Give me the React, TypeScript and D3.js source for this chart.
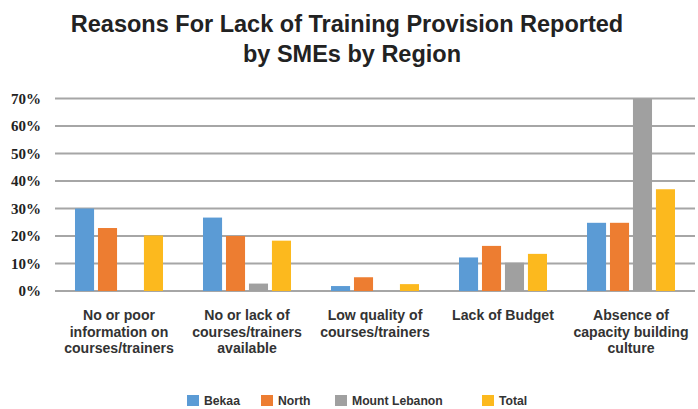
import React from "react";
import * as d3 from "d3";

const categories: string[][] = [
  ["No or poor", "information on", "courses/trainers"],
  ["No or lack of", "courses/trainers", "available"],
  ["Low quality of", "courses/trainers"],
  ["Lack of Budget"],
  ["Absence of", "capacity building", "culture"],
];
const seriesNames = ["Bekaa", "North", "Mount Lebanon", "Total"];
const bekaa = [30, 26.7, 1.8, 12.2, 24.8];
const north = [22.9, 20, 5, 16.4, 24.8];
const mountLebanon = [0, 2.7, 0, 10.3, 70];
const total = [20.2, 18.3, 2.5, 13.5, 37];
const yTicks = [0, 10, 20, 30, 40, 50, 60, 70];

const seriesValues = [bekaa, north, mountLebanon, total];
const colors = ["#5B9BD5", "#ED7D31", "#A0A0A0", "#FCB91E"];

const W = 698;
const H = 409;
const plot = { left: 55, right: 695, top: 98.5, bottom: 291 };
const legendX = [187, 261, 335, 482];

export default function App() {
  const x0 = d3
    .scaleBand<number>()
    .domain(categories.map((_, i) => i))
    .range([plot.left, plot.right])
    .padding(0);
  const x1 = d3
    .scaleBand<number>()
    .domain(seriesNames.map((_, i) => i))
    .range([0, x0.bandwidth()])
    .paddingInner(0.17)
    .paddingOuter(0.87);
  const y = d3.scaleLinear().domain([0, 70]).range([plot.bottom, plot.top]);

  return (
    <svg
      width={W}
      height={H}
      style={{ position: "absolute", left: 0, top: 0, background: "#fff" }}
    >
      <rect x={0} y={0} width={W} height={H} fill="#fff" />
      <g
        fontFamily="'Liberation Sans', Arial, sans-serif"
        fontWeight="bold"
        fontSize={23.5}
        fill="#222"
        textAnchor="middle"
      >
        <text x={347} y={32}>Reasons For Lack of Training Provision Reported</text>
        <text x={352} y={62}>by SMEs by Region</text>
      </g>

      {yTicks.map((t) => (
        <g key={t}>
          <line
            x1={plot.left}
            x2={plot.right}
            y1={y(t)}
            y2={y(t)}
            stroke="#A6A6A6"
            strokeWidth={2}
          />
          <text
            x={41}
            y={y(t)}
            dy="0.34em"
            textAnchor="end"
            fontFamily="'Liberation Serif', 'DejaVu Serif', 'Times New Roman', serif"
            fontWeight="bold"
            fontSize={15}
            fill="#222"
          >
            {t}%
          </text>
        </g>
      ))}

      {categories.map((_, ci) => (
        <g key={ci} transform={`translate(${x0(ci)},0)`}>
          {seriesValues.map((vals, si) =>
            vals[ci] > 0 ? (
              <rect
                key={si}
                x={x1(si)}
                y={y(vals[ci])}
                width={x1.bandwidth()}
                height={y(0) - y(vals[ci])}
                fill={colors[si]}
              />
            ) : null
          )}
        </g>
      ))}

      <g
        fontFamily="'Liberation Sans', Arial, sans-serif"
        fontWeight="bold"
        fontSize={14.1}
        fill="#333"
        textAnchor="middle"
      >
        {categories.map((lines, ci) =>
          lines.map((ln, li) => (
            <text
              key={`${ci}-${li}`}
              x={(x0(ci) as number) + x0.bandwidth() / 2}
              y={320 + li * 16.5}
            >
              {ln}
            </text>
          ))
        )}
      </g>

      <g
        fontFamily="'Liberation Sans', Arial, sans-serif"
        fontWeight="bold"
        fontSize={12.2}
        fill="#333"
      >
        {seriesNames.map((name, si) => (
          <g key={name} transform={`translate(${legendX[si]},395)`}>
            <rect x={0} y={0} width={12} height={11} fill={colors[si]} />
            <text x={17} y={10}>
              {name}
            </text>
          </g>
        ))}
      </g>
    </svg>
  );
}
